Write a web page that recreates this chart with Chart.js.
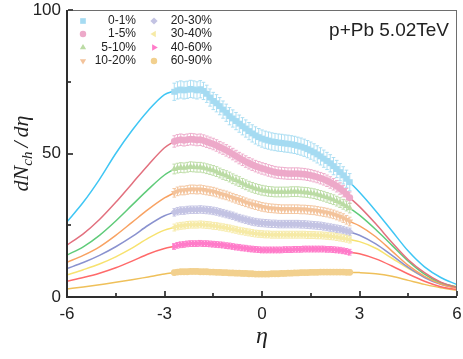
<!DOCTYPE html>
<html>
<head>
<meta charset="utf-8">
<script src="https://cdn.jsdelivr.net/npm/chart.js@4.4.1/dist/chart.umd.min.js"></script>
<style>
  html, body { margin: 0; padding: 0; background: #fff; }
  #grafico { display: block; }
</style>
</head>
<body>
<canvas id="grafico" width="463" height="359"></canvas>
<script>
// Centralidades e estilos das séries
const rotulos = ['0-1%', '1-5%', '5-10%', '10-20%', '20-30%', '30-40%', '40-60%', '60-90%'];

// Ticks dos eixos
const ticksX = [-6, -3, 0, 3, 6];
const ticksXMenores = [-4.5, -1.5, 1.5, 4.5];
const ticksY = [0, 50, 100];
const ticksYMenores = [25, 75];

// Pontos medidos (eta de -2.7 a 2.7)
const etaDados = [-2.7, -2.6, -2.5, -2.4, -2.3, -2.2, -2.1, -2.0, -1.9, -1.8, -1.7, -1.6, -1.5, -1.4, -1.3, -1.2, -1.1, -1.0, -0.9, -0.8, -0.7, -0.6, -0.5, -0.4, -0.3, -0.2, -0.1, 0.0,
  0.1, 0.2, 0.3, 0.4, 0.5, 0.6, 0.7, 0.8, 0.9, 1.0, 1.1, 1.2, 1.3, 1.4, 1.5, 1.6, 1.7, 1.8, 1.9, 2.0, 2.1, 2.2, 2.3, 2.4, 2.5, 2.6, 2.7];

const dados0_1 = [71.5, 72.0, 72.3, 72.0, 72.2, 72.5, 72.3, 72.0, 72.4, 71.8, 70.8, 69.5, 68.3, 67.5, 66.5, 65.3, 64.2, 63.0, 62.2, 61.3, 60.4, 59.5, 58.7, 57.8, 57.0, 56.3, 55.7, 55.2,
  54.8, 54.5, 54.2, 54.0, 53.8, 53.7, 53.5, 53.4, 53.2, 53.0, 52.7, 52.4, 52.0, 51.5, 51.0, 50.4, 49.7, 49.0, 48.2, 47.4, 46.6, 45.6, 44.6, 43.5, 42.4, 41.2, 40.0];
const dados1_5 = [54.2, 54.6, 54.8, 54.6, 54.8, 55.0, 54.9, 54.7, 54.8, 54.5, 54.1, 53.7, 53.3, 52.8, 52.2, 51.7, 51.1, 50.5, 49.8, 49.1, 48.4, 47.8, 47.2, 46.6, 46.1, 45.6, 45.2, 44.8,
  44.5, 44.1, 43.8, 43.5, 43.3, 43.2, 43.1, 43.0, 43.0, 43.0, 43.0, 42.9, 42.8, 42.6, 42.4, 42.1, 41.8, 41.4, 41.0, 40.5, 39.9, 39.3, 38.6, 37.8, 36.9, 35.8, 34.6];
const dados5_10 = [44.6, 44.9, 45.1, 45.0, 45.2, 45.4, 45.3, 45.2, 45.2, 45.0, 44.7, 44.4, 44.1, 43.7, 43.2, 42.7, 42.3, 41.8, 41.2, 40.7, 40.2, 39.6, 39.1, 38.6, 38.2, 37.8, 37.5, 37.2,
  37.0, 36.8, 36.7, 36.6, 36.6, 36.6, 36.6, 36.6, 36.7, 36.7, 36.7, 36.6, 36.5, 36.4, 36.2, 36.0, 35.7, 35.4, 35.1, 34.7, 34.3, 33.9, 33.4, 32.9, 32.3, 31.7, 31.0];
const dados10_20 = [36.3, 36.8, 37.1, 37.1, 37.3, 37.5, 37.5, 37.4, 37.5, 37.3, 37.1, 36.9, 36.7, 36.4, 36.0, 35.7, 35.4, 35.0, 34.6, 34.2, 33.8, 33.4, 33.0, 32.6, 32.3, 32.0, 31.7, 31.4,
  31.2, 31.0, 30.9, 30.8, 30.7, 30.6, 30.6, 30.6, 30.6, 30.6, 30.6, 30.5, 30.5, 30.4, 30.3, 30.2, 30.0, 29.8, 29.6, 29.4, 29.1, 28.8, 28.4, 28.0, 27.5, 26.9, 26.3];
const dados20_30 = [29.5, 29.9, 30.1, 30.1, 30.3, 30.4, 30.4, 30.4, 30.5, 30.4, 30.3, 30.2, 30.0, 29.8, 29.5, 29.2, 28.9, 28.6, 28.3, 27.9, 27.5, 27.2, 26.9, 26.6, 26.3, 26.1, 25.9, 25.8,
  25.7, 25.6, 25.5, 25.5, 25.4, 25.4, 25.4, 25.4, 25.4, 25.4, 25.4, 25.3, 25.3, 25.2, 25.1, 25.0, 24.9, 24.8, 24.6, 24.4, 24.2, 24.0, 23.8, 23.6, 23.3, 23.0, 22.7];
const dados30_40 = [24.2, 24.6, 24.8, 24.9, 25.1, 25.2, 25.2, 25.2, 25.3, 25.2, 25.1, 25.0, 24.8, 24.7, 24.5, 24.3, 24.1, 23.9, 23.6, 23.4, 23.1, 22.9, 22.7, 22.5, 22.3, 22.1, 22.0, 21.9,
  21.8, 21.8, 21.7, 21.7, 21.7, 21.7, 21.7, 21.7, 21.7, 21.7, 21.7, 21.7, 21.7, 21.6, 21.6, 21.6, 21.5, 21.5, 21.4, 21.3, 21.2, 21.1, 20.9, 20.7, 20.5, 20.3, 20.0];
const dados40_60 = [17.6, 18.0, 18.2, 18.3, 18.5, 18.6, 18.6, 18.6, 18.7, 18.6, 18.6, 18.5, 18.4, 18.3, 18.2, 18.1, 17.9, 17.8, 17.6, 17.4, 17.3, 17.1, 17.0, 16.8, 16.7, 16.6, 16.5, 16.4,
  16.4, 16.4, 16.4, 16.4, 16.4, 16.4, 16.5, 16.5, 16.5, 16.6, 16.6, 16.6, 16.7, 16.7, 16.7, 16.7, 16.7, 16.7, 16.7, 16.6, 16.6, 16.5, 16.4, 16.3, 16.1, 15.9, 15.6];
const dados60_90 = [8.5, 8.7, 8.8, 8.8, 8.8, 8.9, 8.9, 8.9, 8.8, 8.8, 8.8, 8.7, 8.7, 8.6, 8.6, 8.5, 8.5, 8.4, 8.4, 8.3, 8.3, 8.2, 8.2, 8.1, 8.1, 8.0, 8.0, 8.0,
  8.0, 8.0, 8.1, 8.1, 8.1, 8.2, 8.2, 8.3, 8.3, 8.4, 8.4, 8.5, 8.5, 8.5, 8.6, 8.6, 8.6, 8.7, 8.7, 8.7, 8.7, 8.7, 8.7, 8.7, 8.7, 8.6, 8.6];
const seriesDados = [dados0_1, dados1_5, dados5_10, dados10_20, dados20_30, dados30_40, dados40_60, dados60_90];

// Barras de erro (aproximadas por série)
const erros = [3.0, 2.0, 1.7, 1.5, 1.3, 1.2, 1.0, 0.8];

// Curvas do modelo, fora da região dos dados
const etaModeloEsq = [-6, -5.5, -5, -4.5, -4, -3.5, -3, -2.7];
const modeloEsq = [
  [26.2, 33, 41, 50, 58, 65, 70.5, 71.8],
  [18.1, 22, 27, 33, 39.5, 46, 52, 54.2],
  [14.6, 17.5, 21.5, 26.5, 32, 37.5, 42.5, 44.6],
  [12.1, 14.5, 17.5, 21.5, 26, 30.5, 34.5, 36.3],
  [9.9, 12, 14.5, 17.5, 21, 25, 28.3, 29.5],
  [7.7, 9.5, 11.5, 14, 17, 20.5, 23.3, 24.2],
  [5.5, 6.8, 8.3, 10.2, 12.5, 15, 16.9, 17.6],
  [2.8, 3.5, 4.3, 5.1, 6, 7, 8, 8.5]
];
const etaModeloDir = [2.7, 3, 3.5, 4, 4.5, 5, 5.5, 6];
const modeloDir = [
  [40, 36.5, 30, 23, 16, 10.5, 6.8, 4.3],
  [34.6, 31.5, 25.5, 19, 13, 8.5, 5.2, 3.3],
  [31, 28.5, 23.5, 18, 12.5, 8, 5, 3.5],
  [26.3, 24.8, 21, 16, 11, 7.2, 4.5, 3.0],
  [22.7, 21.5, 18.5, 14.5, 10.3, 6.8, 4.4, 3.2],
  [20, 19.3, 17, 13.5, 10, 7, 4.8, 3.6],
  [15.6, 15.1, 13.3, 10.8, 8, 5.5, 3.6, 2.5],
  [8.6, 8.5, 8.1, 7.2, 5.8, 4.4, 3.2, 2.4]
];

const corMarcador = ['#a5dbf2', '#eda9c9', '#bbdba4', '#f3c39b', '#c3c3e3', '#f6eaa6', '#ff7bc9', '#f2d08e'];
const corLinha = ['#3fc6f4', '#e2707e', '#5fcb79', '#f8a262', '#8a92cf', '#f7e26f', '#ff6a6a', '#efc05a'];
const estiloPonto = ['rect', 'circle', 'triangle', 'triangle', 'rectRot', 'triangle', 'triangle', 'circle'];
const rotacao = [0, 0, 0, 180, 0, 270, 90, 0];
const raio = [4.2, 3.4, 3.8, 3.8, 3.8, 3.8, 4.0, 3.4];

// Monta os datasets: pontos medidos por cima, linhas do modelo por baixo
const datasetsDados = seriesDados.map((vals, i) => ({
  label: rotulos[i],
  type: 'scatter',
  data: vals.map((v, k) => ({ x: etaDados[k], y: v })),
  pointStyle: estiloPonto[i],
  rotation: rotacao[i],
  pointRadius: raio[i],
  pointBackgroundColor: corMarcador[i],
  pointBorderColor: corMarcador[i],
  pointBorderWidth: 0,
  order: 0
}));

const datasetsModelo = modeloEsq.map((esq, i) => ({
  label: 'modelo ' + rotulos[i],
  type: 'line',
  data: esq.map((v, k) => ({ x: etaModeloEsq[k], y: v }))
    .concat([{ x: 0, y: null }])
    .concat(modeloDir[i].map((v, k) => ({ x: etaModeloDir[k], y: v }))),
  borderColor: corLinha[i],
  borderWidth: 1.5,
  pointRadius: 0,
  fill: false,
  spanGaps: false,
  cubicInterpolationMode: 'monotone',
  order: 1
}));

const fonteTicks = { family: '"Liberation Sans", Arial, sans-serif', size: 17 };

// Moldura e ticks internos, posicionados pelas escalas
function desenharMoldura(chart) {
  const ctx = chart.ctx;
  const a = chart.chartArea;
  const xs = chart.scales.x, ys = chart.scales.y;
  ctx.save();
  ctx.globalAlpha = 1;
  ctx.globalCompositeOperation = 'source-over';
  ctx.fillStyle = '#6e6e6e';
  ctx.fillRect(a.left, a.top, a.right - a.left, 1);
  ctx.fillRect(a.right - 1, a.top, 1, a.bottom - a.top);
  ctx.fillStyle = '#2e2e2e';
  ctx.fillRect(a.left - 1, a.top, 2, a.bottom - a.top + 1);
  ctx.fillRect(a.left - 1, a.bottom - 1, a.right - a.left + 1, 2);
  ticksX.forEach(t => { const p = Math.round(xs.getPixelForValue(t)); ctx.fillRect(p - 0.6, a.bottom - 6, 1.2, 5); });
  ticksXMenores.forEach(t => { const p = Math.round(xs.getPixelForValue(t)); ctx.fillRect(p - 0.6, a.bottom - 4, 1.2, 3); });
  ticksY.forEach(t => { const p = Math.round(ys.getPixelForValue(t)); ctx.fillRect(a.left + 1, p - 0.6, 5, 1.2); });
  ticksYMenores.forEach(t => { const p = Math.round(ys.getPixelForValue(t)); ctx.fillRect(a.left + 1, p - 0.6, 3, 1.2); });
  ctx.restore();
}

// Barras de erro, moldura, títulos, legenda e anotação
const decoracao = {
  id: 'decoracao',
  beforeDatasetsDraw(chart) {
    const ctx = chart.ctx;
    const xs = chart.scales.x, ys = chart.scales.y;
    ctx.save();
    ctx.lineWidth = 0.9;
    seriesDados.forEach((vals, i) => {
      ctx.strokeStyle = corMarcador[i];
      ctx.beginPath();
      vals.forEach((v, k) => {
        const px = xs.getPixelForValue(etaDados[k]);
        const y1 = ys.getPixelForValue(v + erros[i]);
        const y2 = ys.getPixelForValue(v - erros[i]);
        ctx.moveTo(px, y1); ctx.lineTo(px, y2);
        ctx.moveTo(px - 1.8, y1); ctx.lineTo(px + 1.8, y1);
        ctx.moveTo(px - 1.8, y2); ctx.lineTo(px + 1.8, y2);
      });
      ctx.stroke();
    });
    ctx.restore();
    desenharMoldura(chart);
  },
  afterDraw(chart) {
    const ctx = chart.ctx;
    const a = chart.chartArea;
    desenharMoldura(chart);
    ctx.save();

    // título do eixo x
    ctx.fillStyle = '#222';
    ctx.font = 'italic 24px "Liberation Serif", "DejaVu Serif", serif';
    ctx.textAlign = 'center';
    ctx.textBaseline = 'alphabetic';
    ctx.fillText('η', (a.left + a.right) / 2, 343);

    // título do eixo y: dN_ch/dη
    ctx.save();
    ctx.translate(28, (a.top + a.bottom) / 2);
    ctx.rotate(-Math.PI / 2);
    const fG = 'italic 22px "Liberation Serif", "DejaVu Serif", serif';
    const fP = 'italic 15px "Liberation Serif", "DejaVu Serif", serif';
    ctx.textAlign = 'left';
    ctx.font = fG; const w1 = ctx.measureText('dN').width; const w3 = ctx.measureText('/dη').width;
    ctx.font = fP; const w2 = ctx.measureText('ch').width;
    const esp = 4;
    let x0 = -(w1 + w2 + w3 + esp * 2) / 2;
    ctx.font = fG; ctx.fillText('dN', x0, 0); x0 += w1;
    ctx.font = fP; ctx.fillText('ch', x0, 4); x0 += w2 + esp;
    ctx.font = fG; ctx.fillText('/', x0, 0); x0 += ctx.measureText('/').width + esp;
    ctx.fillText('dη', x0, 0);
    ctx.restore();

    // anotação
    ctx.font = '19px "Liberation Sans", Arial, sans-serif';
    ctx.textAlign = 'right';
    ctx.fillStyle = '#222';
    ctx.fillText('p+Pb 5.02TeV', 449, 36);

    // legenda em duas colunas
    const linhasY = [21, 34, 47.5, 61];
    const colMarcador = [83, 154];
    const colTexto = [136, 212];
    ctx.font = '12px "Liberation Sans", Arial, sans-serif';
    ctx.textBaseline = 'middle';
    rotulos.forEach((r, i) => {
      const c = Math.floor(i / 4), l = i % 4;
      ctx.fillStyle = corMarcador[i];
      ctx.strokeStyle = corMarcador[i];
      Chart.helpers.drawPoint(ctx, { pointStyle: estiloPonto[i], rotation: rotacao[i], radius: raio[i] * 0.95, borderWidth: 0 },
        colMarcador[c], linhasY[l]);
      ctx.fillStyle = '#222';
      ctx.textAlign = 'right';
      ctx.fillText(r, colTexto[c], linhasY[l]);
    });
    ctx.restore();
  }
};

new Chart(document.getElementById('grafico'), {
  type: 'scatter',
  data: { datasets: datasetsDados.concat(datasetsModelo) },
  options: {
    responsive: false,
    animation: false,
    layout: { padding: { left: 0, right: 6, top: 10, bottom: 0 } },
    plugins: { legend: { display: false }, tooltip: { enabled: false } },
    scales: {
      x: {
        type: 'linear', min: -6, max: 6,
        afterBuildTicks: (s) => { s.ticks = ticksX.map(v => ({ value: v })); },
        afterFit: (s) => { s.height = 62; s.paddingLeft = 0; s.paddingRight = 0; },
        grid: { display: false, drawTicks: false },
        border: { display: false },
        ticks: { font: fonteTicks, color: '#222', padding: 7, maxRotation: 0, autoSkip: false }
      },
      y: {
        type: 'linear', min: 0, max: 100,
        afterBuildTicks: (s) => { s.ticks = ticksY.map(v => ({ value: v })); },
        afterFit: (s) => { s.width = 67; s.paddingTop = 0; s.paddingBottom = 0; },
        grid: { display: false, drawTicks: false },
        border: { display: false },
        ticks: { font: fonteTicks, color: '#222', padding: 6 }
      }
    }
  },
  plugins: [decoracao]
});
</script>
</body>
</html>
